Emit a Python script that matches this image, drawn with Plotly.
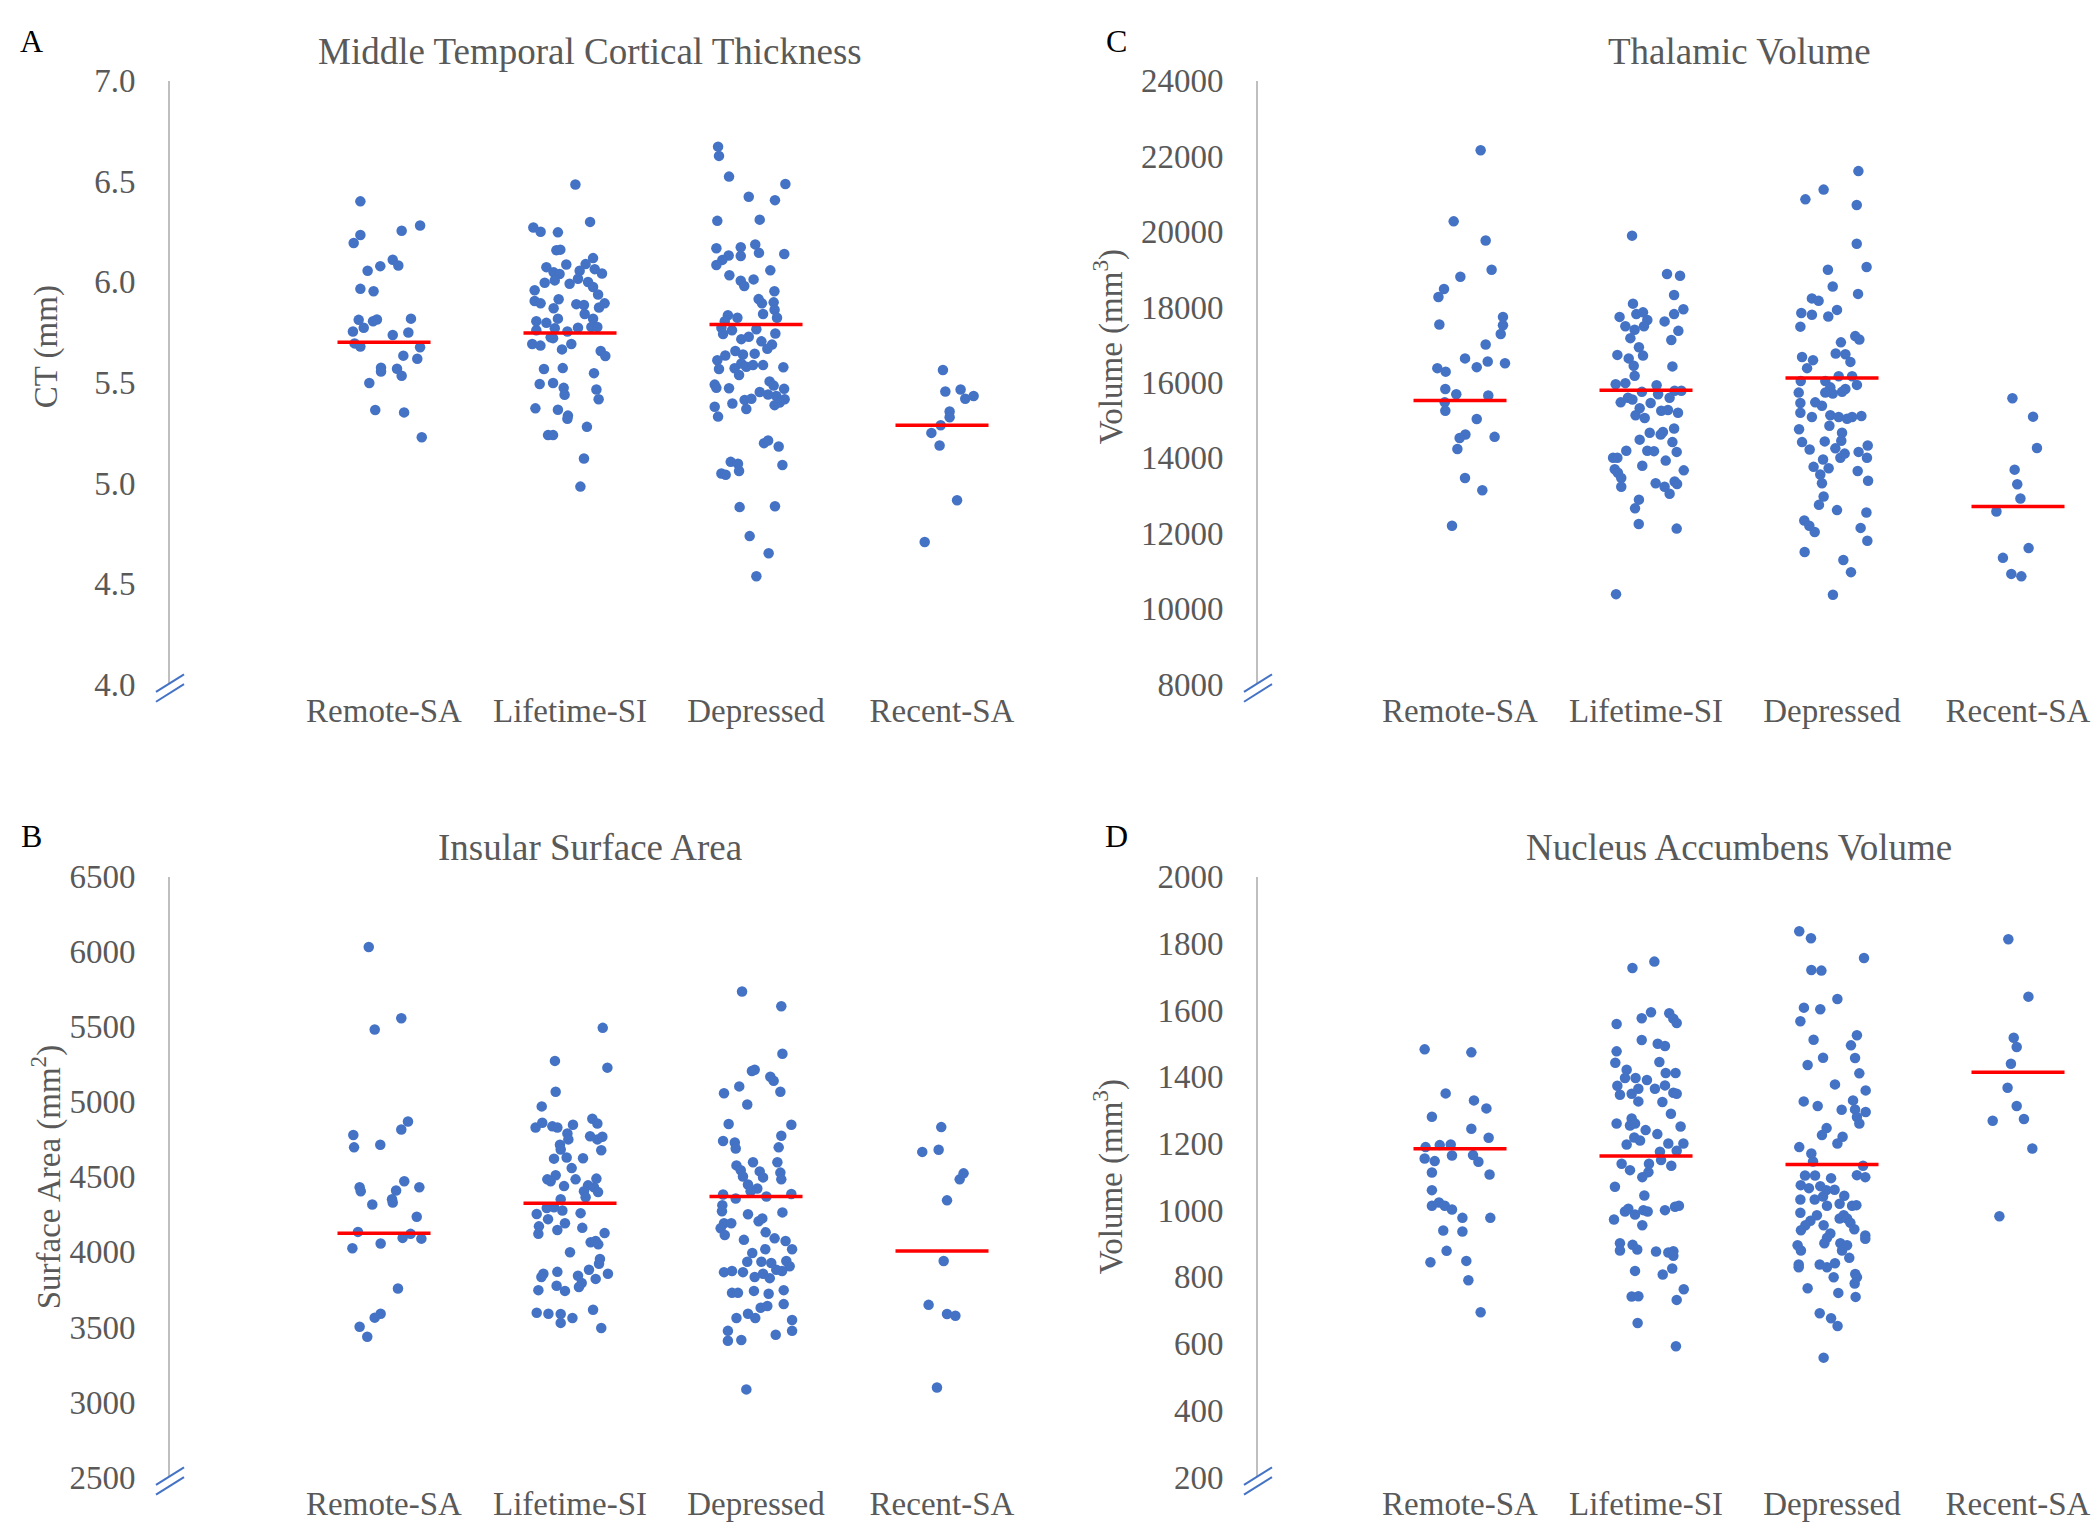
import plotly.graph_objects as go

CATEGORIES = ["Remote-SA", "Lifetime-SI", "Depressed", "Recent-SA"]

# ---------------- Panel A: Middle Temporal Cortical Thickness, CT (mm) ----------------
# each point: (horizontal jitter in category units, value)
A_remote = [(-0.127,6.40),(0.194,6.28),(0.095,6.254),(-0.127,6.233),(-0.163,6.193),(0.047,6.110),(0.077,6.081),
    (-0.020,6.078),(-0.088,6.055),(-0.127,5.965),(-0.056,5.953),(-0.136,5.811),(-0.109,5.772),(-0.059,5.804),
    (-0.038,5.813),(0.145,5.817),(-0.167,5.753),(0.047,5.736),(0.131,5.748),(-0.158,5.694),(-0.127,5.678),
    (0.194,5.675),(0.104,5.633),(0.179,5.618),(-0.016,5.573),(-0.016,5.554),(0.070,5.568),(0.095,5.533),
    (-0.079,5.497),(-0.047,5.363),(0.108,5.351),(0.203,5.227)]
A_lifetime = [(0.029,6.484),(0.108,6.298),(-0.197,6.270),(-0.158,6.249),(-0.065,6.246),(-0.073,6.157),(-0.052,6.160),
    (0.124,6.118),(-0.127,6.073),(-0.020,6.086),(0.084,6.088),(-0.088,6.047),(-0.056,6.039),(0.052,6.055),
    (0.133,6.063),(0.172,6.041),(-0.136,5.995),(-0.082,6.007),(-0.002,5.990),(0.043,6.015),(0.097,5.999),
    (0.124,5.974),(-0.190,5.958),(0.151,5.937),(-0.190,5.905),(-0.158,5.893),(-0.061,5.913),(-0.088,5.869),
    (0.034,5.889),(0.075,5.885),(0.156,5.872),(0.186,5.893),(-0.065,5.817),(0.079,5.840),(0.124,5.817),
    (-0.181,5.804),(-0.127,5.796),(-0.082,5.769),(0.043,5.772),(0.115,5.775),(0.147,5.775),(-0.181,5.759),
    (-0.104,5.724),(-0.014,5.753),(-0.203,5.691),(-0.159,5.683),(-0.091,5.720),(0.007,5.691),(-0.043,5.664),
    (0.165,5.656),(0.190,5.631),(-0.140,5.567),(-0.039,5.571),(0.129,5.546),(-0.163,5.492),(-0.091,5.497),
    (-0.034,5.473),(-0.029,5.439),(0.142,5.465),(0.154,5.416),(-0.186,5.371),(-0.065,5.364),(-0.011,5.335),
    (-0.014,5.319),(0.091,5.279),(-0.118,5.238),(-0.091,5.238),(0.075,5.122),(0.056,4.982)]
A_depressed = [(-0.204,6.672),(-0.199,6.626),(-0.145,6.523),(0.158,6.486),(-0.039,6.423),(0.102,6.406),(-0.208,6.303),
    (0.020,6.309),(-0.213,6.167),(-0.082,6.172),(-0.082,6.128),(-0.004,6.186),(0.016,6.144),(0.152,6.138),
    (-0.147,6.131),(-0.181,6.109),(-0.213,6.084),(0.077,6.057),(-0.143,6.033),(-0.082,6.005),(-0.063,5.979),
    (-0.013,6.012),(0.099,5.953),(0.014,5.914),(0.032,5.893),(0.095,5.898),(0.100,5.861),(0.038,5.840),
    (0.113,5.821),(-0.151,5.834),(-0.100,5.821),(-0.168,5.804),(-0.186,5.772),(-0.129,5.759),(-0.177,5.740),
    (0.002,5.764),(0.104,5.743),(-0.079,5.715),(-0.039,5.727),(0.029,5.704),(0.086,5.688),(0.061,5.667),
    (-0.165,5.634),(-0.111,5.656),(-0.070,5.639),(-0.007,5.643),(-0.208,5.610),(-0.199,5.567),(-0.115,5.570),
    (-0.079,5.594),(-0.052,5.578),(-0.016,5.586),(0.038,5.586),(-0.091,5.537),(0.147,5.575),(-0.222,5.489),
    (-0.213,5.473),(-0.145,5.471),(0.073,5.505),(0.095,5.484),(0.151,5.468),(0.020,5.452),(0.065,5.440),
    (0.109,5.432),(0.154,5.416),(0.100,5.387),(0.127,5.400),(-0.127,5.395),(-0.061,5.413),(-0.025,5.419),
    (-0.052,5.368),(-0.222,5.379),(-0.204,5.330),(0.043,5.198),(0.065,5.211),(0.122,5.181),(0.142,5.089),
    (-0.136,5.105),(-0.097,5.096),(-0.091,5.060),(-0.186,5.047),(-0.163,5.041),(-0.088,4.880),(0.102,4.884),
    (-0.034,4.736),(0.068,4.651),(0.002,4.536)]
A_recent = [(0.005,5.562),(0.018,5.455),(0.100,5.465),(0.125,5.419),(0.041,5.355),(0.041,5.327),(-0.007,5.287),
    (-0.057,5.249),(-0.013,5.186),(0.081,4.914),(-0.093,4.707),(0.170,5.432)]
A_means = [5.70, 5.745, 5.788, 5.287]

# ---------------- Panel B: Insular Surface Area (mm^2) ----------------
B_remote = [(-0.082,6031),(0.093,5556),(-0.050,5481),(0.129,4868),(0.093,4815),(-0.165,4778),(-0.161,4696),
    (-0.020,4714),(-0.131,4430),(-0.125,4404),(0.109,4470),(0.065,4409),(0.190,4430),(0.043,4350),(0.047,4329),
    (-0.063,4316),(0.176,4234),(-0.140,4133),(0.100,4093),(0.143,4120),(0.201,4088),(-0.170,4024),(-0.018,4056),
    (0.075,3756),(-0.018,3588),(-0.050,3562),(-0.131,3501),(-0.090,3435)]
B_lifetime = [(0.176,5492),(0.201,5227),(-0.081,5272),(-0.077,5067),(-0.152,4969),(-0.185,4828),(-0.149,4860),
    (-0.095,4836),(-0.068,4828),(0.016,4847),(-0.014,4789),(-0.009,4749),(0.120,4887),(0.147,4855),(0.108,4770),
    (0.147,4749),(0.174,4767),(-0.054,4714),(-0.050,4682),(0.168,4677),(-0.086,4621),(-0.018,4629),(0.070,4624),
    (0.009,4558),(-0.122,4483),(-0.077,4510),(-0.104,4470),(-0.032,4438),(0.030,4483),(0.142,4488),(0.097,4443),
    (0.129,4430),(0.151,4398),(0.075,4404),(0.084,4364),(-0.050,4350),(-0.125,4292),(-0.086,4297),(-0.041,4276),
    (-0.179,4252),(-0.118,4218),(0.057,4258),(-0.167,4170),(-0.170,4120),(-0.068,4146),(-0.027,4191),(0.066,4160),
    (0.186,4125),(0.111,4064),(0.138,4072),(0.152,4050),(0.000,3997),(0.161,3952),(0.156,3921),(-0.143,3854),
    (-0.154,3833),(-0.068,3867),(0.043,3841),(0.102,3881),(0.063,3793),(0.138,3820),(0.204,3854),(-0.170,3745),
    (-0.072,3774),(-0.027,3740),(0.048,3766),(-0.179,3594),(-0.116,3588),(-0.050,3586),(-0.050,3527),(0.013,3559),
    (0.124,3615),(0.168,3493)]
B_depressed = [(-0.075,5734),(0.136,5636),(0.142,5320),(-0.022,5205),(-0.007,5213),(0.077,5166),(0.095,5139),
    (-0.090,5102),(-0.172,5057),(0.131,5067),(-0.047,4982),(-0.147,4852),(0.190,4847),(0.136,4773),(-0.177,4738),
    (-0.114,4728),(-0.109,4688),(0.122,4696),(-0.105,4576),(-0.016,4597),(-0.082,4544),(0.115,4597),(0.020,4536),
    (0.131,4528),(-0.070,4502),(0.038,4496),(0.136,4483),(-0.043,4449),(0.007,4422),(-0.029,4404),(-0.177,4382),
    (-0.109,4356),(0.056,4369),(0.190,4385),(-0.181,4311),(-0.183,4271),(-0.043,4250),(0.014,4204),(0.034,4223),
    (0.142,4263),(-0.172,4191),(-0.133,4191),(-0.190,4157),(-0.168,4112),(-0.065,4080),(0.052,4130),(0.100,4090),
    (0.159,4072),(0.194,4018),(-0.020,3992),(0.050,4018),(-0.047,3934),(0.029,3934),(0.082,3926),(0.163,3939),
    (0.181,3904),(-0.172,3865),(-0.129,3873),(-0.070,3865),(-0.007,3833),(0.038,3854),(0.074,3825),(0.109,3881),
    (0.140,3873),(-0.129,3727),(-0.097,3727),(-0.011,3740),(0.068,3721),(0.149,3745),(0.149,3652),(0.025,3628),
    (0.061,3639),(-0.043,3588),(-0.004,3559),(-0.105,3559),(0.194,3546),(0.194,3474),(-0.151,3474),(-0.151,3408),
    (-0.079,3413),(0.106,3448),(-0.052,3084)]
B_recent = [(-0.004,4831),(-0.106,4666),(-0.018,4680),(0.095,4483),(0.116,4523),(0.027,4343),(0.009,3939),
    (-0.072,3647),(0.027,3586),(0.072,3575),(-0.027,3097)]
B_means = [4124, 4323, 4369, 4006]

# ---------------- Panel C: Thalamic Volume (mm^3) ----------------
C_remote = [(0.111,22156),(-0.034,20270),(0.138,19762),(0.170,18985),(0.002,18800),(-0.086,18476),(-0.116,18264),
    (-0.111,17533),(0.231,17737),(0.231,17515),(0.219,17284),(0.138,17006),(0.027,16637),(0.090,16405),
    (0.149,16553),(0.242,16507),(-0.122,16378),(-0.077,16285),(-0.079,15823),(-0.020,15684),(0.152,15656),
    (-0.082,15471),(-0.079,15250),(0.090,15028),(0.029,14621),(-0.002,14528),(0.186,14556),(-0.014,14233),
    (0.027,13465),(0.120,13142),(-0.043,12198)]
C_lifetime = [(-0.075,19891),(0.113,18874),(0.183,18828),(0.151,18319),(-0.070,18088),(0.201,17940),(0.151,17811),
    (-0.142,17737),(-0.052,17811),(-0.016,17857),(0.007,17654),(0.100,17617),(-0.111,17487),(-0.061,17395),
    (-0.011,17487),(0.174,17367),(-0.084,17173),(0.136,17126),(-0.038,16932),(-0.016,16710),(-0.154,16729),
    (-0.093,16637),(-0.066,16442),(0.142,16424),(-0.061,16174),(-0.163,15952),(-0.111,15980),(0.057,15925),
    (-0.022,15749),(0.154,15777),(0.190,15777),(-0.136,15471),(-0.097,15592),(-0.073,15545),(0.025,15453),
    (0.065,15684),(0.127,15592),(-0.034,15314),(0.082,15250),(0.118,15268),(0.172,15194),(-0.056,15129),
    (-0.007,15055),(0.020,14667),(0.079,14621),(0.091,14686),(0.151,14778),(-0.034,14482),(-0.106,14186),
    (0.007,14186),(0.043,14177),(0.142,14417),(0.165,14158),(-0.177,14001),(-0.154,14001),(0.106,13927),
    (-0.020,13789),(-0.168,13696),(-0.151,13604),(-0.133,13465),(0.203,13668),(0.052,13327),(0.100,13234),
    (0.154,13373),(0.167,13308),(0.127,13049),(-0.133,13234),(-0.038,12892),(-0.059,12661),(-0.039,12245),
    (0.165,12124),(-0.161,10386)]
C_depressed = [(0.142,21602),(-0.045,21112),(-0.143,20853),(0.133,20705),(0.133,19678),(0.186,19059),(-0.022,18985),
    (0.004,18541),(0.140,18347),(-0.108,18227),(-0.072,18162),(-0.165,17838),(-0.108,17792),(-0.020,17746),
    (0.027,17922),(-0.170,17478),(0.125,17228),(0.147,17136),(0.048,17062),(0.020,16766),(0.072,16747),
    (0.099,16544),(-0.161,16673),(-0.102,16590),(-0.134,16378),(0.036,16165),(0.108,16165),(-0.168,16035),
    (-0.036,16035),(0.134,15934),(-0.009,15869),(0.072,15823),(-0.179,15730),(-0.036,15730),(0.004,15703),
    (0.054,15749),(-0.090,15471),(-0.054,15379),(-0.170,15453),(-0.170,15194),(-0.108,15083),(-0.009,15129),
    (0.036,15083),(0.081,15037),(0.108,15083),(0.158,15111),(-0.014,14852),(-0.177,14760),(0.054,14667),
    (0.050,14454),(-0.161,14417),(-0.039,14436),(-0.120,14223),(0.018,14251),(0.143,14158),(0.192,14325),
    (0.188,14001),(0.045,14001),(0.068,14112),(-0.048,13955),(-0.099,13761),(-0.018,13724),(-0.063,13558),
    (-0.054,13327),(0.138,13650),(0.194,13391),(-0.045,12975),(-0.070,12753),(0.027,12614),(0.185,12550),
    (-0.149,12337),(-0.122,12198),(-0.093,12032),(0.154,12143),(0.190,11801),(-0.147,11505),(0.061,11292),
    (0.102,10969),(0.005,10368)]
C_recent = [(-0.030,15582),(0.081,15092),(0.102,14260),(-0.018,13687),(-0.004,13299),(0.013,12920),(-0.116,12578),
    (0.057,11607),(-0.081,11348),(-0.036,10923),(0.018,10858)]
C_means = [15518, 15795, 16118, 12707]

# ---------------- Panel D: Nucleus Accumbens Volume (mm^3) ----------------
D_remote = [(-0.190,1482),(0.061,1473),(-0.077,1350),(0.075,1329),(0.142,1305),(-0.151,1280),(0.061,1244),
    (0.154,1217),(-0.185,1189),(-0.109,1195),(-0.050,1197),(-0.043,1164),(0.070,1165),(0.099,1145),(-0.190,1155),
    (-0.136,1147),(-0.151,1113),(0.159,1107),(-0.151,1060),(-0.151,1013),(-0.113,1023),(-0.082,1013),(-0.043,1002),
    (0.013,977),(0.163,977),(-0.090,939),(0.013,936),(-0.072,878),(-0.159,844),(0.034,848),(0.045,790),(0.111,694)]
D_lifetime = [(0.045,1745),(-0.073,1726),(0.027,1593),(-0.023,1575),(0.125,1590),(0.147,1574),(0.165,1561),
    (-0.158,1558),(-0.023,1510),(0.063,1499),(0.102,1492),(-0.158,1476),(-0.165,1442),(0.072,1444),(-0.104,1421),
    (-0.113,1396),(-0.056,1396),(0.005,1390),(0.106,1411),(0.159,1411),(-0.154,1373),(-0.041,1364),(0.048,1364),
    (0.102,1374),(-0.140,1346),(-0.077,1349),(0.147,1352),(0.165,1349),(-0.041,1326),(0.088,1324),(0.134,1289),
    (-0.158,1260),(-0.077,1275),(-0.086,1254),(-0.059,1260),(-0.002,1240),(0.186,1251),(0.061,1228),(-0.063,1218),
    (-0.032,1209),(-0.104,1197),(0.120,1200),(0.201,1200),(0.165,1178),(0.075,1175),(-0.131,1139),(0.016,1139),
    (0.081,1150),(0.136,1133),(-0.086,1120),(0.013,1114),(-0.020,1099),(-0.167,1070),(-0.009,1044),(-0.113,996),
    (-0.095,1004),(-0.059,987),(-0.014,1000),(0.009,996),(0.102,1000),(0.156,1010),(0.177,1013),(-0.172,972),
    (-0.020,955),(-0.140,901),(-0.140,879),(-0.072,896),(-0.047,882),(0.054,876),(0.120,873),(0.147,877),
    (0.147,863),(0.141,825),(0.090,807),(-0.059,818),(-0.077,741),(-0.041,742),(0.203,763),(0.165,731),
    (-0.045,662),(0.161,592)]
D_depressed = [(-0.176,1836),(-0.113,1815),(0.172,1756),(-0.111,1720),(-0.057,1718),(0.029,1633),(-0.151,1607),
    (-0.063,1602),(-0.170,1566),(0.134,1524),(-0.099,1511),(0.102,1494),(-0.048,1457),(0.124,1456),(-0.131,1435),
    (0.147,1410),(0.016,1377),(0.181,1359),(-0.152,1326),(-0.077,1312),(0.113,1329),(0.052,1301),(0.124,1302),
    (0.181,1294),(0.134,1279),(0.147,1260),(-0.029,1246),(-0.054,1225),(0.057,1220),(0.029,1200),(-0.176,1189),
    (-0.111,1170),(-0.102,1146),(0.167,1133),(0.134,1105),(0.179,1099),(-0.145,1104),(-0.091,1104),(-0.005,1096),
    (-0.168,1075),(-0.124,1066),(-0.063,1072),(-0.030,1060),(0.014,1061),(-0.093,1032),(-0.048,1041),(0.066,1043),
    (-0.170,1032),(-0.027,1013),(0.041,1019),(0.108,1013),(0.131,1015),(-0.170,992),(-0.081,985),(-0.116,968),
    (-0.143,955),(-0.167,940),(-0.045,955),(0.041,975),(0.063,985),(0.081,975),(0.099,962),(0.120,943),
    (-0.009,930),(-0.027,917),(-0.041,901),(0.179,924),(0.179,914),(-0.185,895),(-0.167,879),(0.045,901),
    (0.081,895),(0.054,879),(0.093,857),(-0.179,837),(-0.179,829),(-0.066,837),(-0.027,829),(0.016,841),
    (0.009,799),(0.125,809),(0.134,799),(0.122,780),(-0.131,766),(0.034,752),(0.127,740),(-0.066,691),
    (-0.005,676),(0.030,653),(-0.045,558)]
D_recent = [(-0.052,1812),(0.056,1640),(-0.023,1517),(-0.007,1489),(-0.038,1439),(-0.056,1367),(-0.007,1312),
    (0.032,1273),(-0.136,1268),(0.077,1185),(-0.100,982)]
D_means = [1184, 1162, 1137, 1413]

# ---------------- styling / layout constants ----------------
W, H = 2100, 1533
FONT = "Liberation Serif"
GREY_TXT = "#595959"
DOT = "#4472C4"
MEAN_HALF = 0.25

def px(x):
    return x / W

def py(y):
    return 1 - y / H

# pixel geometry of the panels
LEFT_COL = dict(axis=162, right=1040, c0=376, step=186)
RIGHT_COL = dict(axis=1250, right=2100, c0=1452, step=186)
TOP_ROW = dict(top=57, bottom=675)
BOT_ROW = dict(top=872, bottom=1487)

panels = [
    dict(name="A", groups=[A_remote, A_lifetime, A_depressed, A_recent], means=A_means, col=LEFT_COL, row=TOP_ROW,
         yrange=[4, 7], dtick=0.5, fmt=".1f", title="Middle Temporal Cortical Thickness", ytitle="CT (mm)",
         title_x=582, ytitle_x=38, ytitle_y=330, letter_x=23),
    dict(name="B", groups=[B_remote, B_lifetime, B_depressed, B_recent], means=B_means, col=LEFT_COL, row=BOT_ROW,
         yrange=[2500, 6500], dtick=500, fmt="d", title="Insular Surface Area", ytitle="Surface Area (mm<sup>2</sup>)",
         title_x=582, ytitle_x=38, ytitle_y=1180, letter_x=23),
    dict(name="C", groups=[C_remote, C_lifetime, C_depressed, C_recent], means=C_means, col=RIGHT_COL, row=TOP_ROW,
         yrange=[8000, 24000], dtick=2000, fmt="d", title="Thalamic Volume", ytitle="Volume (mm<sup>3</sup>)",
         title_x=1731, ytitle_x=1100, ytitle_y=330, letter_x=1108),
    dict(name="D", groups=[D_remote, D_lifetime, D_depressed, D_recent], means=D_means, col=RIGHT_COL, row=BOT_ROW,
         yrange=[200, 2000], dtick=200, fmt="d", title="Nucleus Accumbens Volume", ytitle="Volume (mm<sup>3</sup>)",
         title_x=1731, ytitle_x=1100, ytitle_y=1180, letter_x=1108),
]

fig = go.Figure()
annotations = []
shapes = []
layout_axes = {}

for k, p in enumerate(panels, start=1):
    xa = "x" if k == 1 else f"x{k}"
    ya = "y" if k == 1 else f"y{k}"
    col, row = p["col"], p["row"]
    for i, grp in enumerate(p["groups"]):
        fig.add_trace(go.Scatter(
            x=[i + j for j, _ in grp], y=[v for _, v in grp], mode="markers",
            marker=dict(color=DOT, size=10.5, line=dict(width=0)),
            xaxis=xa, yaxis=ya, showlegend=False, hoverinfo="y"))
    for i, m in enumerate(p["means"]):
        fig.add_trace(go.Scatter(
            x=[i - MEAN_HALF, i + MEAN_HALF], y=[m, m], mode="lines",
            line=dict(color="#FF0000", width=3.5), xaxis=xa, yaxis=ya, showlegend=False, hoverinfo="y"))

    r0 = -(col["c0"] - col["axis"]) / col["step"]
    r1 = (col["right"] - col["c0"]) / col["step"]
    xkey = "xaxis" if k == 1 else f"xaxis{k}"
    ykey = "yaxis" if k == 1 else f"yaxis{k}"
    layout_axes[xkey] = dict(
        domain=[px(col["axis"]), px(col["right"])], anchor=ya, range=[r0, r1],
        tickvals=[0, 1, 2, 3], ticktext=CATEGORIES, showline=False, showgrid=False, zeroline=False,
        ticks="", ticklabelstandoff=4, tickfont=dict(family=FONT, size=33, color=GREY_TXT))
    layout_axes[ykey] = dict(
        domain=[py(row["bottom"]), py(row["top"])], anchor=xa, range=p["yrange"],
        dtick=p["dtick"], tick0=p["yrange"][0], tickformat=p["fmt"], showline=True, linecolor="#BFBFBF",
        linewidth=2, showgrid=False, zeroline=False, ticks="", ticklabelstandoff=26,
        tickfont=dict(family=FONT, size=33, color=GREY_TXT))

    # titles
    annotations.append(dict(text=p["title"], x=px(p["title_x"]), y=py(row["top"] - 30), xref="paper", yref="paper",
                            xanchor="center", yanchor="middle", showarrow=False,
                            font=dict(family=FONT, size=37, color=GREY_TXT)))
    annotations.append(dict(text=p["ytitle"], x=px(p["ytitle_x"]), y=py(p["ytitle_y"]), xref="paper", yref="paper",
                            xanchor="center", yanchor="middle", showarrow=False, textangle=-90,
                            font=dict(family=FONT, size=33, color=GREY_TXT)))
    annotations.append(dict(text=p["name"], x=px(p["letter_x"]), y=py(row["top"] - 41), xref="paper", yref="paper",
                            xanchor="center", yanchor="middle", showarrow=False,
                            font=dict(family=FONT, size=32, color="#000000")))
    # axis break marks
    ax, by = col["axis"], row["bottom"] + 4
    for dy in (-5, 5):
        shapes.append(dict(type="line", xref="paper", yref="paper",
                           x0=px(ax - 14), y0=py(by + dy + 9), x1=px(ax + 14), y1=py(by + dy - 9),
                           line=dict(color=DOT, width=2)))

fig.update_layout(
    width=W, height=H, margin=dict(l=0, r=0, t=0, b=0),
    paper_bgcolor="white", plot_bgcolor="white",
    annotations=annotations, shapes=shapes, **layout_axes)

fig.write_html("out.html")
